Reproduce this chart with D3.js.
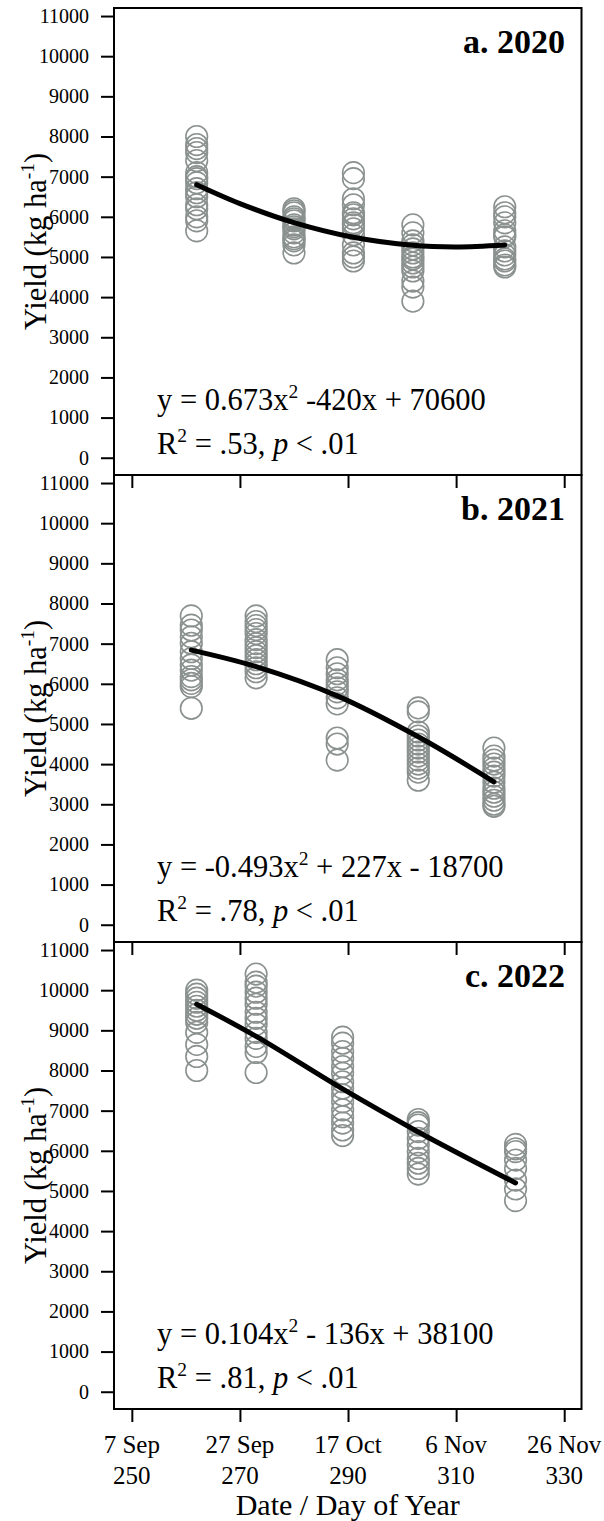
<!DOCTYPE html>
<html><head><meta charset="utf-8">
<script src="https://cdn.jsdelivr.net/npm/d3@7"></script>
<style>body{margin:0;background:#fff}svg{display:block}</style>
</head><body><svg id="c" width="604" height="1521"></svg>
<script>
// ---------- data ----------
const doyTicks = [250, 270, 290, 310, 330];
const dateLabels = ["7 Sep", "27 Sep", "17 Oct", "6 Nov", "26 Nov"];
const yieldTicks = [0,1000,2000,3000,4000,5000,6000,7000,8000,9000,10000,11000];
const panelTitles = ["a. 2020", "b. 2021", "c. 2022"];
const equations = [
  ["y = 0.673x", " -420x + 70600", ".53"],
  ["y = -0.493x", " + 227x - 18700", ".78"],
  ["y = 0.104x", " - 136x + 38100", ".81"]
];

const doy2020 = [262, 280, 291, 302, 319];
const yield2020 = [
  [8000,7800,7700,7600,7400,7100,7000,6950,6850,6700,6600,6500,6300,6200,6000,5900,5650],
  [6200,6150,6100,6000,5950,5900,5800,5750,5700,5600,5500,5450,5400,5300,5100],
  [7100,6950,6450,6300,6100,6050,5950,5850,5800,5700,5550,5300,5100,5000,4900],
  [5800,5600,5400,5300,5200,5100,5000,4950,4850,4750,4650,4400,4250,3900],
  [6250,6100,6000,5850,5650,5550,5500,5250,5150,5050,4950,4900,4800,4750]
];
const fitDoy2020 = [262, 270, 280, 291, 302, 310, 319];
const fit2020 = [6800, 6330, 5855, 5490, 5290, 5250, 5300];

const doy2021 = [261, 273, 288, 303, 317];
const yield2021 = [
  [7690,7460,7340,7170,7010,6800,6630,6470,6340,6180,6100,6010,5930,5390],
  [7690,7550,7450,7350,7250,7100,7000,6900,6800,6700,6600,6500,6400,6300,6150],
  [6600,6400,6250,6100,6000,5900,5800,5650,5500,4650,4500,4100],
  [5400,5300,4800,4700,4600,4500,4400,4300,4200,4100,4000,3900,3800,3600],
  [4400,4200,4100,4000,3900,3800,3700,3550,3400,3300,3200,3100,3000,2950]
];
const fitDoy2021 = [261, 273, 288, 303, 317];
const fit2021 = [6840, 6430, 5700, 4680, 3560];

const doy2022 = [262, 273, 289, 303, 321];
const yield2022 = [
  [10000,9900,9800,9700,9600,9500,9400,9300,9200,8950,8650,8350,8000],
  [10400,10200,10100,9950,9800,9650,9450,9300,9150,8950,8800,8600,8450,7950],
  [8830,8680,8470,8300,8100,7930,7720,7560,7390,7220,7020,6850,6690,6520,6380],
  [6780,6700,6640,6480,6310,6150,5980,5810,5690,5560,5420],
  [6160,6050,5980,5770,5560,5270,5050,4760]
];
const fitDoy2022 = [262, 273, 289, 303, 321];
const fit2022 = [9650, 8850, 7540, 6470, 5200];

// ---------- layout ----------
const FONT = "'Liberation Serif','Times New Roman',serif";
const left = 114, right = 581.5, top0 = 8, ph = 467;
const svg = d3.select("#c").style("font-family", FONT);
const x = d3.scaleLinear().domain([246.7, 333.2]).range([left, right]);

const years = [
  {doy: doy2020, vals: yield2020, fd: fitDoy2020, fv: fit2020},
  {doy: doy2021, vals: yield2021, fd: fitDoy2021, fv: fit2021},
  {doy: doy2022, vals: yield2022, fd: fitDoy2022, fv: fit2022}
];

years.forEach((yr, i) => {
  const t = top0 + i * ph, b = t + ph;
  const y = d3.scaleLinear().domain([-430, 11200]).range([b, t]);
  const g = svg.append("g");

  // y axis
  const ya = g.append("g").attr("transform", `translate(${left},0)`)
    .call(d3.axisLeft(y).tickValues(yieldTicks).tickSize(13).tickPadding(12).tickFormat(d3.format("d")));
  ya.select(".domain").remove();
  ya.selectAll("line").attr("stroke", "#000").attr("stroke-width", 2);
  ya.selectAll("text").attr("font-family", FONT).attr("font-size", 20).attr("fill", "#000");

  // x axis ticks
  const xa = g.append("g").attr("transform", `translate(0,${b})`)
    .call(d3.axisBottom(x).tickValues(doyTicks).tickSize(13).tickFormat(""));
  xa.select(".domain").remove();
  xa.selectAll("line").attr("stroke", "#000").attr("stroke-width", 2);

  // points
  const pts = [];
  yr.doy.forEach((d, k) => yr.vals[k].forEach(v => pts.push([d, v])));
  g.append("g").selectAll("circle").data(pts).join("circle")
    .attr("cx", d => x(d[0])).attr("cy", d => y(d[1])).attr("r", 10.8)
    .attr("fill", "none").attr("stroke", "#8a918f").attr("stroke-width", 1.6);

  // fitted curve
  const line = d3.line().x((d, k) => x(yr.fd[k])).y(d => y(d)).curve(d3.curveCatmullRom.alpha(0.5));
  g.append("path").attr("d", line(yr.fv)).attr("fill", "none")
    .attr("stroke", "#000").attr("stroke-width", 5).attr("stroke-linecap", "round");

  // frame
  g.append("rect").attr("x", left).attr("y", t).attr("width", right - left).attr("height", ph)
    .attr("fill", "none").attr("stroke", "#000").attr("stroke-width", 2);

  // title
  g.append("text").attr("x", 565).attr("y", t + 45).attr("text-anchor", "end")
    .attr("font-size", 34).attr("font-weight", "bold").text(panelTitles[i]);

  // equation
  const eq = equations[i];
  const e1 = g.append("text").attr("x", 157).attr("y", b - 65).attr("font-size", 30.5);
  e1.append("tspan").text(eq[0]);
  e1.append("tspan").attr("font-size", 19.5).attr("dy", -12).text("2");
  e1.append("tspan").attr("dy", 12).text(eq[1]);
  const e2 = g.append("text").attr("x", 157).attr("y", b - 21).attr("font-size", 30.5);
  e2.append("tspan").text("R");
  e2.append("tspan").attr("font-size", 19.5).attr("dy", -12).text("2");
  e2.append("tspan").attr("dy", 12).text(" = " + eq[2] + ", ");
  e2.append("tspan").attr("font-style", "italic").text("p");
  e2.append("tspan").text(" < .01");

  // y label
  const yl = g.append("text").attr("transform", `translate(46,${(t + b) / 2}) rotate(-90)`)
    .attr("text-anchor", "middle").attr("font-size", 30.5);
  yl.append("tspan").text("Yield (kg ha");
  yl.append("tspan").attr("font-size", 19.5).attr("dy", -12).text("-1");
  yl.append("tspan").attr("dy", 12).text(")");

  // bottom x labels
  if (i === 2) {
    doyTicks.forEach((d, k) => {
      g.append("text").attr("x", x(d)).attr("y", b + 44).attr("text-anchor", "middle")
        .attr("font-size", 25).text(dateLabels[k]);
      g.append("text").attr("x", x(d)).attr("y", b + 75).attr("text-anchor", "middle")
        .attr("font-size", 25).text(d);
    });
    g.append("text").attr("x", (left + right) / 2).attr("y", b + 106).attr("text-anchor", "middle")
      .attr("font-size", 30).text("Date / Day of Year");
  }
});
</script></body></html>
